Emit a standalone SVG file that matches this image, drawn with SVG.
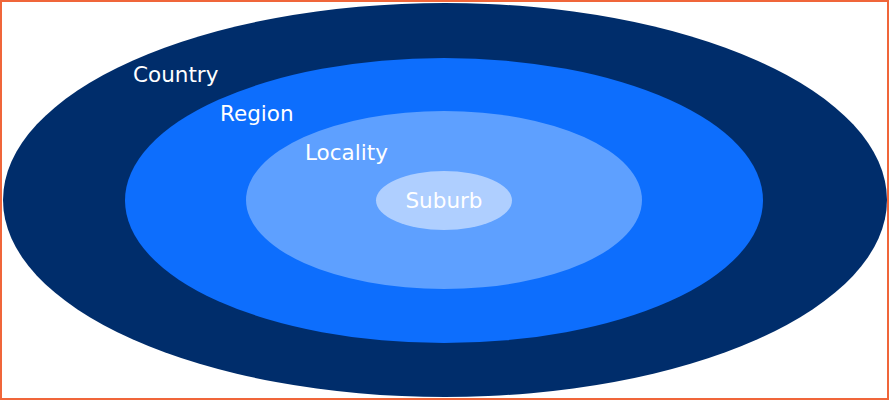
<svg xmlns="http://www.w3.org/2000/svg" width="889" height="400" viewBox="0 0 889 400">
<style>
.lbl{font-family:"DejaVu Sans","Verdana",sans-serif;font-size:21.5px;fill:#ffffff}
</style>
<rect x="0" y="0" width="889" height="400" fill="#ffffff"/>
<g id="country"><ellipse cx="445" cy="200" rx="442" ry="197" fill="#002d6b"/><text class="lbl" x="133" y="82">Country</text></g>
<g id="region"><ellipse cx="444" cy="200.5" rx="319" ry="142.5" fill="#0d6efd"/><text class="lbl" x="220" y="121">Region</text></g>
<g id="locality"><ellipse cx="444" cy="200" rx="198" ry="89" fill="#5ea0ff"/><text class="lbl" x="305" y="160">Locality</text></g>
<g id="suburb"><ellipse cx="444" cy="200.5" rx="68" ry="29.5" fill="#afcfff"/><text class="lbl" x="444" y="208" text-anchor="middle">Suburb</text></g>
<g id="connectors"/>
<rect x="1" y="1" width="887" height="398" fill="none" stroke="#f0663a" stroke-width="2"/>
</svg>
